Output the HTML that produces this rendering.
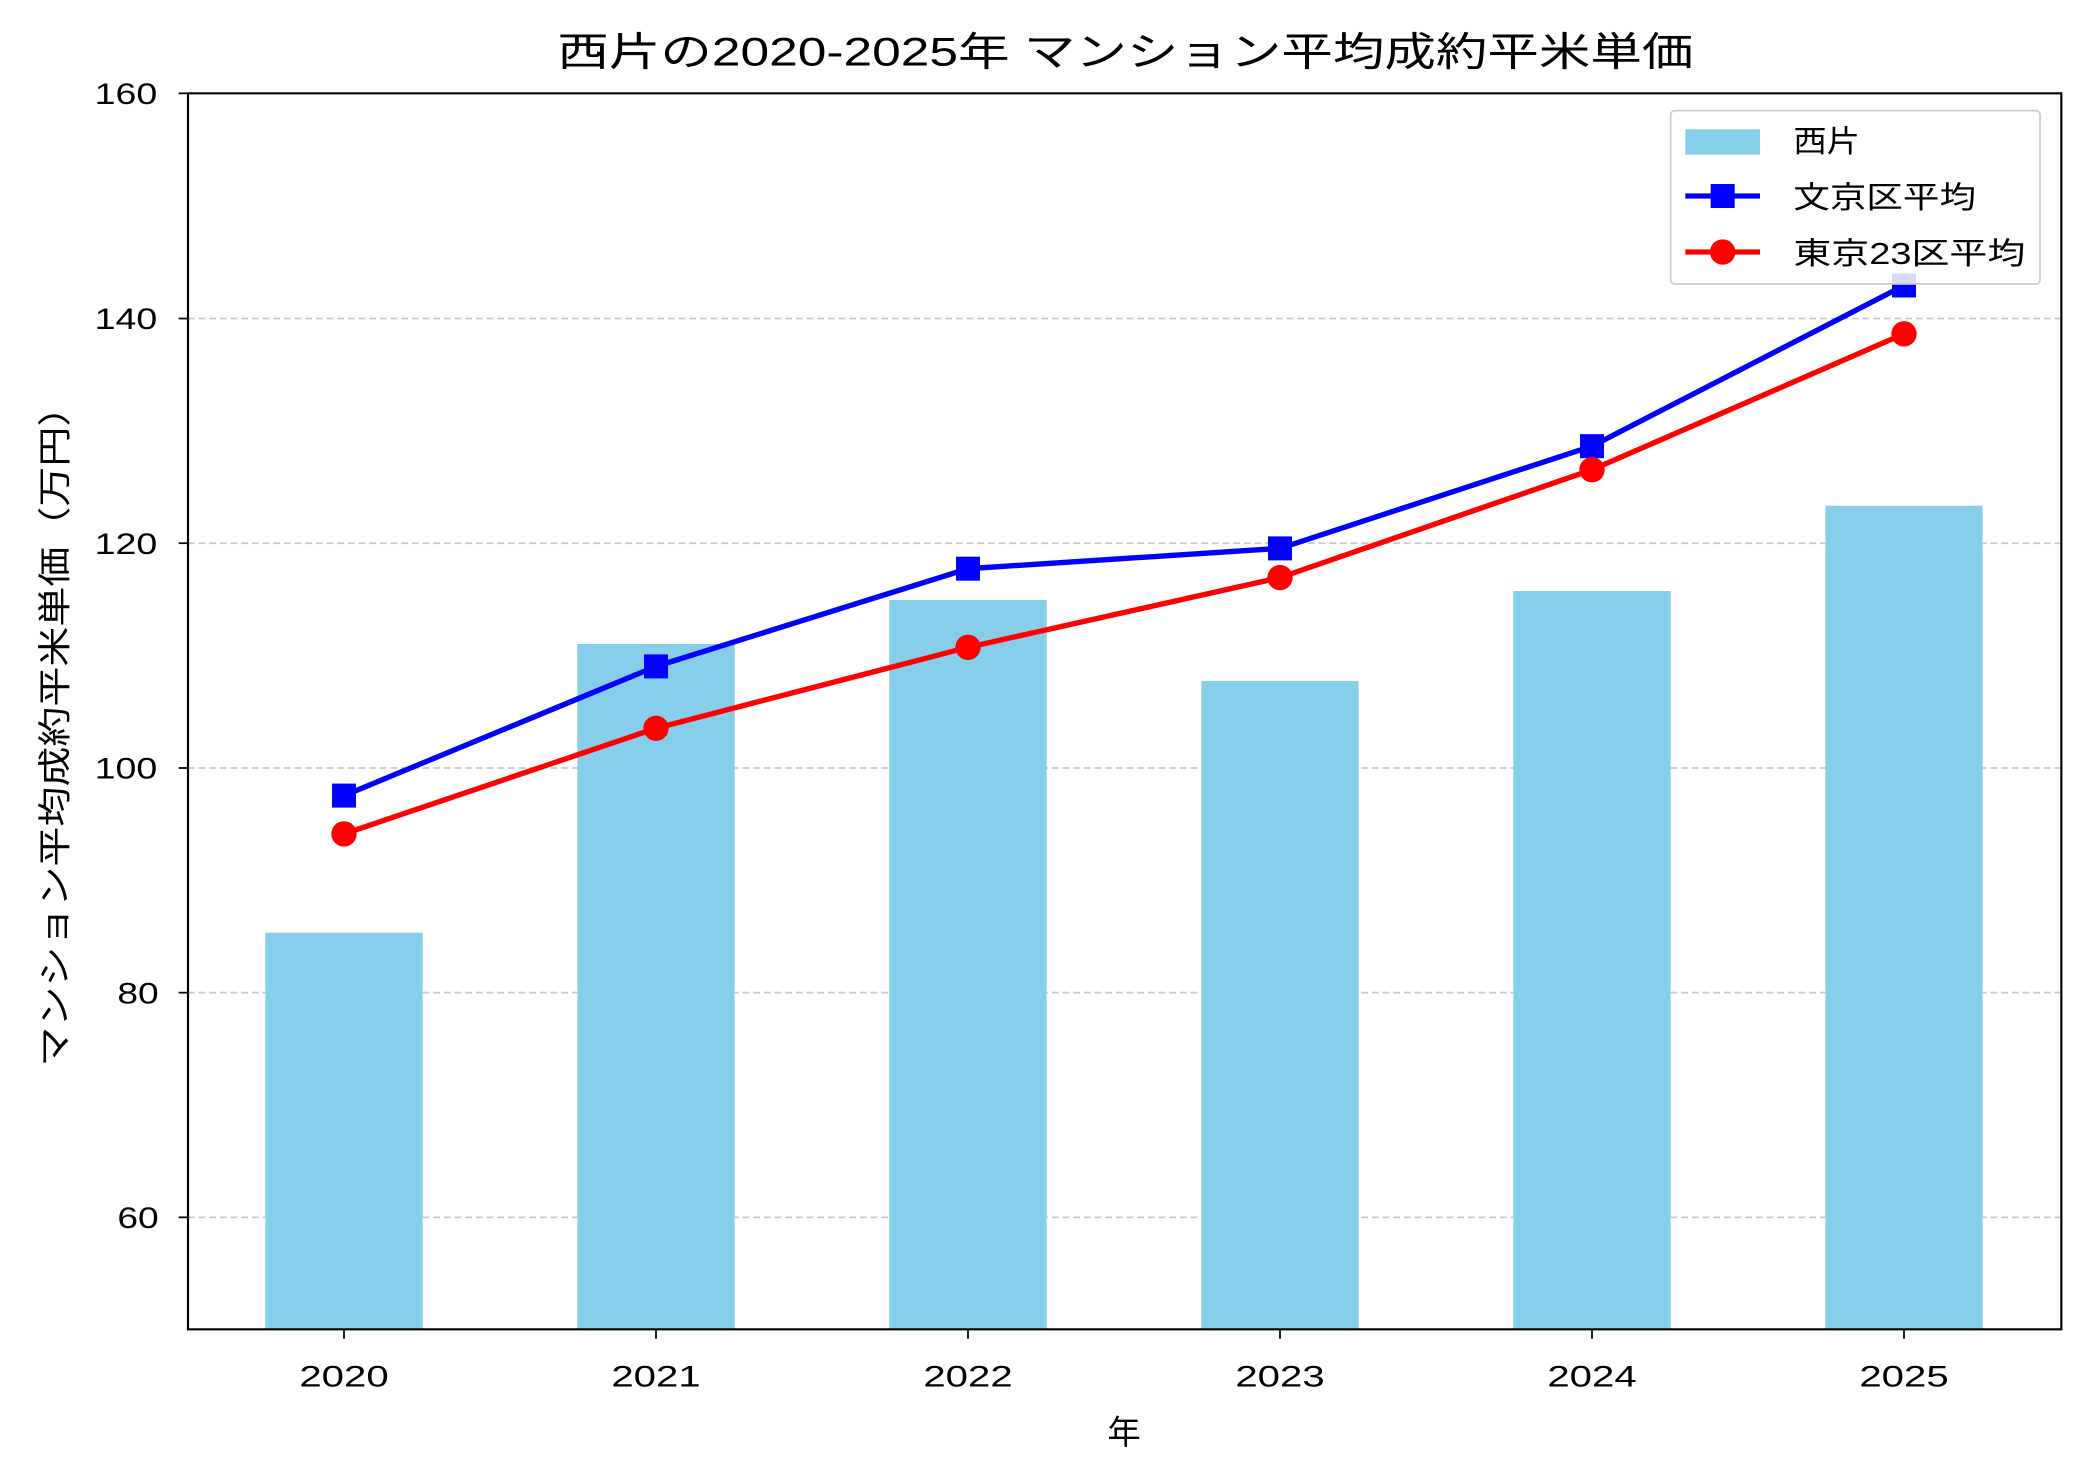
<!DOCTYPE html>
<html><head><meta charset="utf-8"><style>html,body{margin:0;padding:0;background:#fff}svg{display:block}</style></head>
<body>
<svg width="2079" height="1474" viewBox="0 0 1559.25 1105.5" xmlns="http://www.w3.org/2000/svg" font-family="'Liberation Sans','Noto Sans CJK JP',sans-serif">
<rect width="1559.25" height="1105.5" fill="#fff"/>
<g stroke="#c8c8c8" stroke-width="1.3" stroke-dasharray="5,3">
<line x1="141" x2="1546" y1="913" y2="913"/>
<line x1="141" x2="1546" y1="744.5" y2="744.5"/>
<line x1="141" x2="1546" y1="576" y2="576"/>
<line x1="141" x2="1546" y1="407.4" y2="407.4"/>
<line x1="141" x2="1546" y1="238.9" y2="238.9"/>
</g>
<g fill="#87ceeb">
<rect x="199" y="699.5" width="118" height="297.5"/>
<rect x="433" y="483" width="118" height="514"/>
<rect x="667" y="450" width="118" height="547"/>
<rect x="901" y="510.8" width="118" height="486.2"/>
<rect x="1135" y="443.3" width="118" height="553.7"/>
<rect x="1369" y="379.3" width="118" height="617.7"/>
</g>
<polyline fill="none" stroke="#0000ff" stroke-width="4" points="258,596.7 492,499.8 726,426.5 960,411.3 1194,334.6 1428,214.1"/>
<g fill="#0000ff">
<rect x="249" y="587.7" width="18" height="18"/><rect x="483" y="490.8" width="18" height="18"/><rect x="717" y="417.5" width="18" height="18"/><rect x="951" y="402.3" width="18" height="18"/><rect x="1185" y="325.6" width="18" height="18"/><rect x="1419" y="205.1" width="18" height="18"/>
</g>
<polyline fill="none" stroke="#ff0000" stroke-width="4" points="258,625.4 492,546.2 726,485.5 960,433.2 1194,352.3 1428,250.4"/>
<g fill="#ff0000">
<circle cx="258" cy="625.4" r="9.5"/><circle cx="492" cy="546.2" r="9.5"/><circle cx="726" cy="485.5" r="9.5"/><circle cx="960" cy="433.2" r="9.5"/><circle cx="1194" cy="352.3" r="9.5"/><circle cx="1428" cy="250.4" r="9.5"/>
</g>
<rect x="141" y="70" width="1405" height="927" fill="none" stroke="#000" stroke-width="1.6"/>
<g stroke="#000" stroke-width="1.3">
<line x1="141" x2="134" y1="913" y2="913"/><line x1="141" x2="134" y1="744.5" y2="744.5"/><line x1="141" x2="134" y1="576" y2="576"/><line x1="141" x2="134" y1="407.4" y2="407.4"/><line x1="141" x2="134" y1="238.9" y2="238.9"/><line x1="141" x2="134" y1="70" y2="70"/>
<line x1="258" x2="258" y1="997" y2="1004"/><line x1="492" x2="492" y1="997" y2="1004"/><line x1="726" x2="726" y1="997" y2="1004"/><line x1="960" x2="960" y1="997" y2="1004"/><line x1="1194" x2="1194" y1="997" y2="1004"/><line x1="1428" x2="1428" y1="997" y2="1004"/>
</g>
<g font-size="22" fill="#000" lengthAdjust="spacingAndGlyphs">
<text x="88" y="921" textLength="31" lengthAdjust="spacingAndGlyphs">60</text>
<text x="88" y="752.5" textLength="31" lengthAdjust="spacingAndGlyphs">80</text>
<text x="71" y="584" textLength="47" lengthAdjust="spacingAndGlyphs">100</text>
<text x="71" y="415.4" textLength="47" lengthAdjust="spacingAndGlyphs">120</text>
<text x="71" y="246.9" textLength="47" lengthAdjust="spacingAndGlyphs">140</text>
<text x="71" y="78" textLength="47" lengthAdjust="spacingAndGlyphs">160</text>
</g>
<g font-size="22" fill="#000">
<text x="224.5" y="1040" textLength="67" lengthAdjust="spacingAndGlyphs">2020</text>
<text x="458.5" y="1040" textLength="67" lengthAdjust="spacingAndGlyphs">2021</text>
<text x="692.5" y="1040" textLength="67" lengthAdjust="spacingAndGlyphs">2022</text>
<text x="926.5" y="1040" textLength="67" lengthAdjust="spacingAndGlyphs">2023</text>
<text x="1160.5" y="1040" textLength="67" lengthAdjust="spacingAndGlyphs">2024</text>
<text x="1394.5" y="1040" textLength="67" lengthAdjust="spacingAndGlyphs">2025</text>
</g>
<text x="843" y="1083" font-size="25" text-anchor="middle">年</text>
<text x="418" y="49" font-size="30" textLength="852" lengthAdjust="spacingAndGlyphs">西片の2020-2025年 マンション平均成約平米単価</text>
<text transform="translate(50,800) rotate(-90)" font-size="25" textLength="510" lengthAdjust="spacingAndGlyphs">マンション平均成約平米単価（万円）</text>
<rect x="1253" y="83" width="277" height="130" rx="3" fill="#fff" fill-opacity="0.85" stroke="#ccc" stroke-width="1.3"/>
<rect x="1264" y="97" width="56" height="19" fill="#87ceeb"/>
<line x1="1264" x2="1320" y1="147" y2="147" stroke="#0000ff" stroke-width="4"/><rect x="1283" y="138" width="18" height="18" fill="#0000ff"/>
<line x1="1264" x2="1320" y1="189" y2="189" stroke="#ff0000" stroke-width="4"/><circle cx="1292" cy="189" r="9.5" fill="#ff0000"/>
<g font-size="23" fill="#000">
<text x="1345" y="114" textLength="50" lengthAdjust="spacingAndGlyphs">西片</text>
<text x="1345" y="156" textLength="137" lengthAdjust="spacingAndGlyphs">文京区平均</text>
<text x="1345" y="198" textLength="174" lengthAdjust="spacingAndGlyphs">東京23区平均</text>
</g>
</svg>
</body></html>
